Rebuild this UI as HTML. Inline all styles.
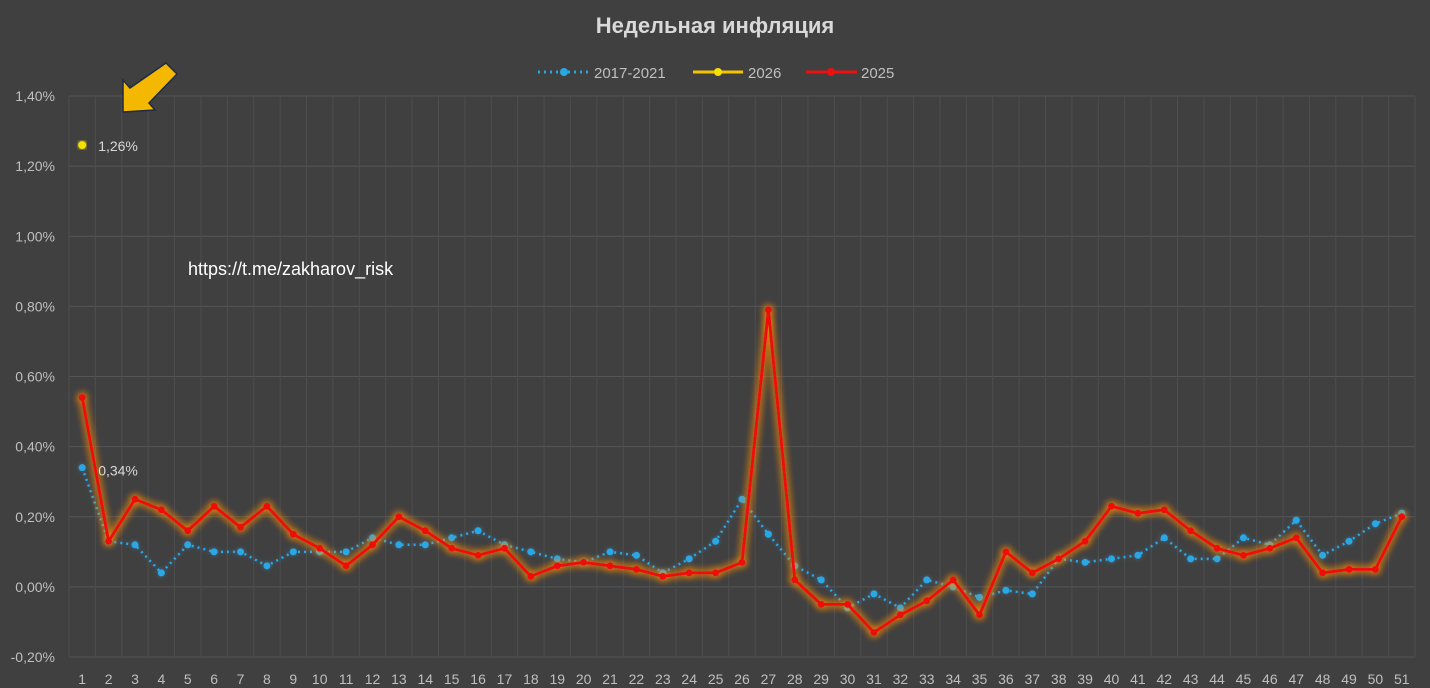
<!DOCTYPE html>
<html><head><meta charset="utf-8"><style>
html,body{margin:0;padding:0;background:#404040;}
svg{display:block;font-family:"Liberation Sans","DejaVu Sans",sans-serif;}
</style></head><body>
<svg id="chart" width="1430" height="688" viewBox="0 0 1430 688" xmlns="http://www.w3.org/2000/svg">
<defs>
<filter id="glowR" x="-20%" y="-20%" width="140%" height="140%"><feGaussianBlur in="SourceGraphic" stdDeviation="4" result="b"/><feFlood flood-color="#ff8c00" flood-opacity="1"/><feComposite in2="b" operator="in" result="g"/><feMerge><feMergeNode in="g"/><feMergeNode in="g"/><feMergeNode in="SourceGraphic"/></feMerge></filter>
<filter id="glowB" x="-20%" y="-20%" width="140%" height="140%"><feGaussianBlur in="SourceGraphic" stdDeviation="2" result="b"/><feFlood flood-color="#3aa0e0" flood-opacity="0.5"/><feComposite in2="b" operator="in" result="g"/><feMerge><feMergeNode in="g"/><feMergeNode in="SourceGraphic"/></feMerge></filter>
<filter id="glowY"><feGaussianBlur in="SourceGraphic" stdDeviation="2" result="b"/><feMerge><feMergeNode in="b"/><feMergeNode in="SourceGraphic"/></feMerge></filter>
</defs>
<rect width="1430" height="688" fill="#404040"/>
<text x="715" y="33" text-anchor="middle" fill="#d9d9d9" font-size="22" font-weight="bold">Недельная инфляция</text>
<g>
<g><line x1="538" y1="72" x2="590" y2="72" stroke="#29a8e6" stroke-width="3" stroke-dasharray="2,4"/><circle cx="564" cy="72" r="4" fill="#29a8e6"/><text x="594" y="78" fill="#bfbfbf" font-size="15">2017-2021</text></g>
<g><line x1="693" y1="72" x2="743" y2="72" stroke="#f5c400" stroke-width="3"/><circle cx="718" cy="72" r="4" fill="#f5e000"/><text x="748" y="78" fill="#bfbfbf" font-size="15">2026</text></g>
<g><line x1="806" y1="72" x2="857" y2="72" stroke="#ee1010" stroke-width="3"/><circle cx="831" cy="72" r="4" fill="#ee1010"/><text x="861" y="78" fill="#bfbfbf" font-size="15">2025</text></g>
</g>
<g id="grid"></g>
<g id="yaxis"></g>
<g id="xaxis"></g>
<g id="series"></g>
<text x="188" y="275" fill="#ffffff" font-size="18">https://t.me/zakharov_risk</text>
<polygon points="166,63 177,74 149,103 155,110 123,112 123,80 130,88" fill="#f5b800" stroke="#1f2a44" stroke-width="1.5"/>
</svg>
<script>
const categories = Array.from({length:51},(_,i)=>String(i+1));
const yTicks = [-0.2,0,0.2,0.4,0.6,0.8,1.0,1.2,1.4];
const series2017 = [0.34,0.13,0.12,0.04,0.12,0.10,0.10,0.06,0.10,0.10,0.10,0.14,0.12,0.12,0.14,0.16,0.12,0.10,0.08,0.07,0.10,0.09,0.04,0.08,0.13,0.25,0.15,0.06,0.02,-0.06,-0.02,-0.06,0.02,0.00,-0.03,-0.01,-0.02,0.08,0.07,0.08,0.09,0.14,0.08,0.08,0.14,0.12,0.19,0.09,0.13,0.18,0.21];
const series2025 = [0.54,0.13,0.25,0.22,0.16,0.23,0.17,0.23,0.15,0.11,0.06,0.12,0.20,0.16,0.11,0.09,0.11,0.03,0.06,0.07,0.06,0.05,0.03,0.04,0.04,0.07,0.79,0.02,-0.05,-0.05,-0.13,-0.08,-0.04,0.02,-0.08,0.10,0.04,0.08,0.13,0.23,0.21,0.22,0.16,0.11,0.09,0.11,0.14,0.04,0.05,0.05,0.20];
const series2026 = [1.26];
const NS='http://www.w3.org/2000/svg';
const L=69, R=1415, T=96, B=657, yMin=-0.2, yMax=1.4;
const step=(R-L)/categories.length;
const x=i=>L+step*(i+0.5);
const y=v=>B-(v-yMin)/(yMax-yMin)*(B-T);
function mk(tag,attrs,parent){const e=document.createElementNS(NS,tag);for(const k in attrs)e.setAttribute(k,attrs[k]);parent.appendChild(e);return e;}
const fmt=v=>v.toFixed(2).replace('.',',')+'%';
const grid=document.getElementById('grid'),ya=document.getElementById('yaxis'),xa=document.getElementById('xaxis'),sg=document.getElementById('series');
yTicks.forEach(t=>{
 const ln=mk('line',{x1:L,x2:R,y1:y(t),y2:y(t),stroke:'#555','stroke-width':1},grid);
 
 
 const tx=mk('text',{x:55,y:y(t)+5,'text-anchor':'end',fill:'#bfbfbf','font-size':14},ya);
 tx.textContent=fmt(t);
 
 
});
for(let i=0;i<=categories.length;i++){
 const ln=mk('line',{x1:L+step*i,x2:L+step*i,y1:T,y2:B,stroke:'#4e4e4e','stroke-width':1},grid);
 
 
}
categories.forEach((c,i)=>{
 const tx=mk('text',{x:x(i),y:684,'text-anchor':'middle',fill:'#bfbfbf','font-size':14},xa);
 tx.textContent=c;
 
 
});
function draw(data,color,dash,filter,name,r,w){
 const g=mk('g',{filter:'url(#'+filter+')'},sg);
 
 
 const pts=data.map((v,i)=>x(i)+','+y(v)).join(' ');
 if(data.length>1){const p=mk('polyline',{points:pts,fill:'none',stroke:color,'stroke-width':w,'stroke-linejoin':'round'},g);if(dash)p.setAttribute('stroke-dasharray',dash);}
 data.forEach((v,i)=>{const c=mk('circle',{cx:x(i),cy:y(v),r:r,fill:color},g);
  
  });
}
draw(series2017,'#29a8e6','2,4','glowB','series-2017-2021',3.5,2.5);
draw(series2025,'#ee1010',null,'glowR','series-2025',3.5,3);
draw(series2026,'#f5e000',null,'glowY','series-2026',4,3);
const l1=mk('text',{x:x(0)+16,y:y(series2026[0])+6,fill:'#d9d9d9','font-size':14},sg);
l1.textContent=fmt(series2026[0]);


const l2=mk('text',{x:x(0)+16,y:y(series2017[0])+8,fill:'#d9d9d9','font-size':14},sg);
l2.textContent=fmt(series2017[0]);


</script>
</body></html>
